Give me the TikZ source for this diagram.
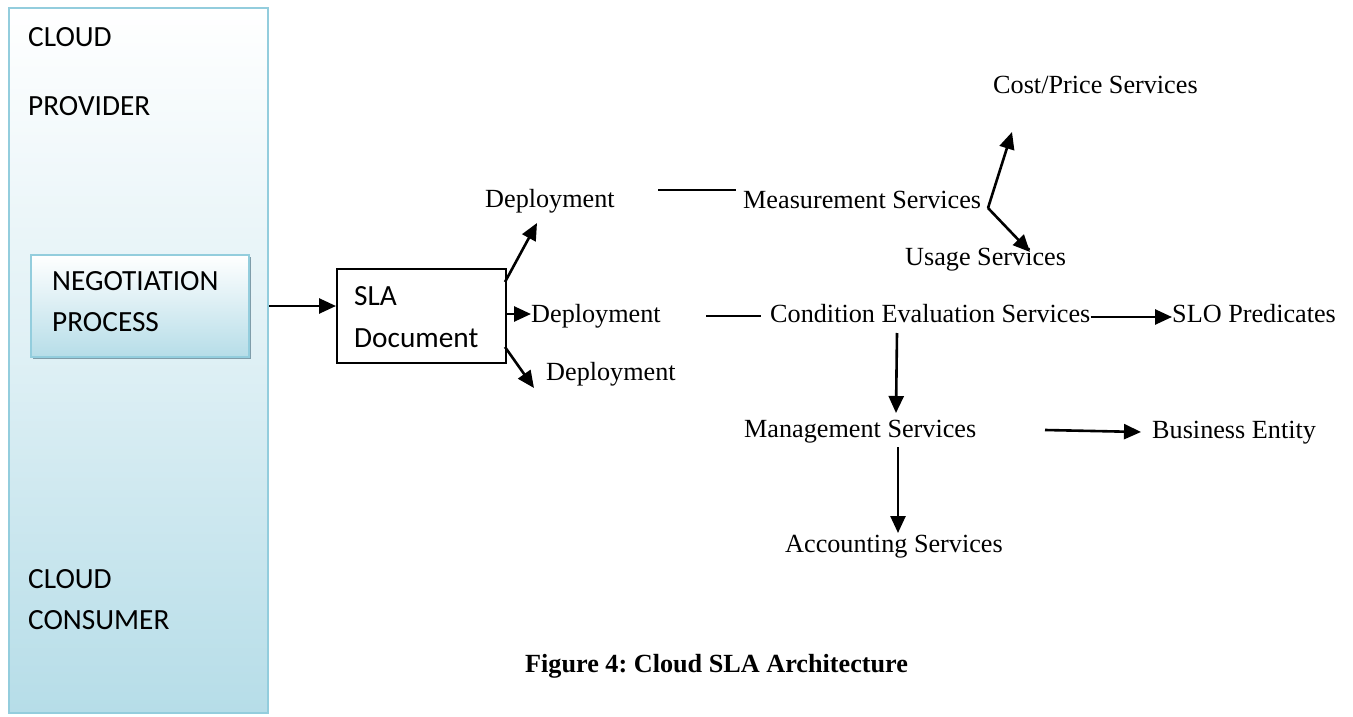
\documentclass[tikz,border=0pt]{standalone}
\usepackage{fontspec}
\setmainfont{Liberation Serif}
\newfontfamily\calfont{Carlito}
\usetikzlibrary{arrows.meta}
\definecolor{aqua}{HTML}{B6DDE8}
\definecolor{aquaedge}{HTML}{93CDDD}
\definecolor{shadowc}{HTML}{7F9DAA}
\frenchspacing
\begin{document}
\begin{tikzpicture}[x=1pt,y=-1pt,
  lbl/.style={inner sep=0pt, anchor=base west, font=\fontsize{26.2}{30}\selectfont},
  cal/.style={inner sep=0pt, anchor=base west, font=\calfont\fontsize{29.3}{34}\selectfont},
  arr/.style={line width=2.6pt, -{Triangle[length=17pt,width=15pt]}},
  ln/.style={line width=2pt},
  bluebox/.style={draw=aquaedge, line width=2pt, top color=white, bottom color=aqua, inner sep=0pt, anchor=north west},
]
\useasboundingbox (0,0) rectangle (1353,717);
\fill[white] (0,0) rectangle (1353,717);

% left panel
\fill[aquaedge!80!shadowc] (10,9) rectangle (269,713);
\node[bluebox, middle color=aqua!45!white, minimum width=259pt, minimum height=705pt] (panel) at (8,7) {};

% negotiation box
\fill[shadowc] (33,257) rectangle (251,359);
\node[bluebox, minimum width=218pt, minimum height=102pt] (neg) at (30,254) {};

% SLA box
\node[draw, line width=1.6pt, minimum width=169pt, minimum height=94pt, inner sep=0pt, anchor=north west] (sla) at (336,268) {};

% Calibri texts
\node[cal] (cloudP1) at (28,47) {CLOUD};
\node[cal] (cloudP2) at (28,115) {PROVIDER};
\node[cal] (negA) at (52,290) {NEGOTIATION};
\node[cal] (negB) at (52,331) {PROCESS};
\node[cal] (cloudC1) at (28,588) {CLOUD};
\node[cal] (cloudC2) at (28,629) {CONSUMER};
\node[cal] (slaA) at (354,305) {SLA};
\node[cal] (slaB) at (354,347) {Document};

% Times texts
\node[lbl] (dep1) at (485,207) {Deployment};
\node[lbl] (dep2) at (531,322) {Deployment};
\node[lbl] (dep3) at (546,380) {Deployment};
\node[lbl] (meas) at (743,208) {Measurement Services};
\node[lbl] (cost) at (993,93) {Cost/Price Services};
\node[lbl] (usage) at (905,265) {Usage Services};
\node[lbl] (cond) at (770,322) {Condition Evaluation Services};
\node[lbl] (slo) at (1172,322) {SLO Predicates};
\node[lbl] (mgmt) at (744,437) {Management Services};
\node[lbl] (bus) at (1152,438) {Business Entity};
\node[lbl] (acct) at (785,552) {Accounting Services};
\node[lbl, font=\bfseries\fontsize{26.2}{30}\selectfont] (cap) at (525,672) {Figure 4: Cloud SLA Architecture};

% connector end points
\coordinate (pOut) at (panel.east |- 0,306);
\coordinate (slaIn) at (sla.west |- 0,306);
\coordinate (s1) at (505,282);
\coordinate (d1) at (537,223);
\coordinate (s2) at (505,314);
\coordinate (d2) at (dep2.west |- 0,314);
\coordinate (s3) at (505,347);
\coordinate (d3) at (534,388);
\coordinate (m0) at (658,190);
\coordinate (m1) at (736,190);
\coordinate (mj) at (988,208);
\coordinate (ct) at (1012,132);
\coordinate (ut) at (1030,252);
\coordinate (c0) at (706,316);
\coordinate (c1) at (761,316);
\coordinate (cr) at (cond.east |- 0,317);
\coordinate (sl) at (slo.west |- 0,317);
\coordinate (cd) at (897,333);
\coordinate (mt) at (896,413);
\coordinate (mr) at (1045,430);
\coordinate (bl) at (1141,432);
\coordinate (md) at (898,447);
\coordinate (at) at (898,533);

% connectors
\draw[arr] (pOut) -- (slaIn);
\draw[arr] (s1) -- (d1);
\draw[arr] (s2) -- (d2);
\draw[arr] (s3) -- (d3);
\draw[ln] (m0) -- (m1);
\draw[arr] (mj) -- (ct);
\draw[arr] (mj) -- (ut);
\draw[ln] (c0) -- (c1);
\draw[arr] (cr) -- (sl);
\draw[arr] (cd) -- (mt);
\draw[arr] (mr) -- (bl);
\draw[arr] (md) -- (at);
\end{tikzpicture}
\end{document}
